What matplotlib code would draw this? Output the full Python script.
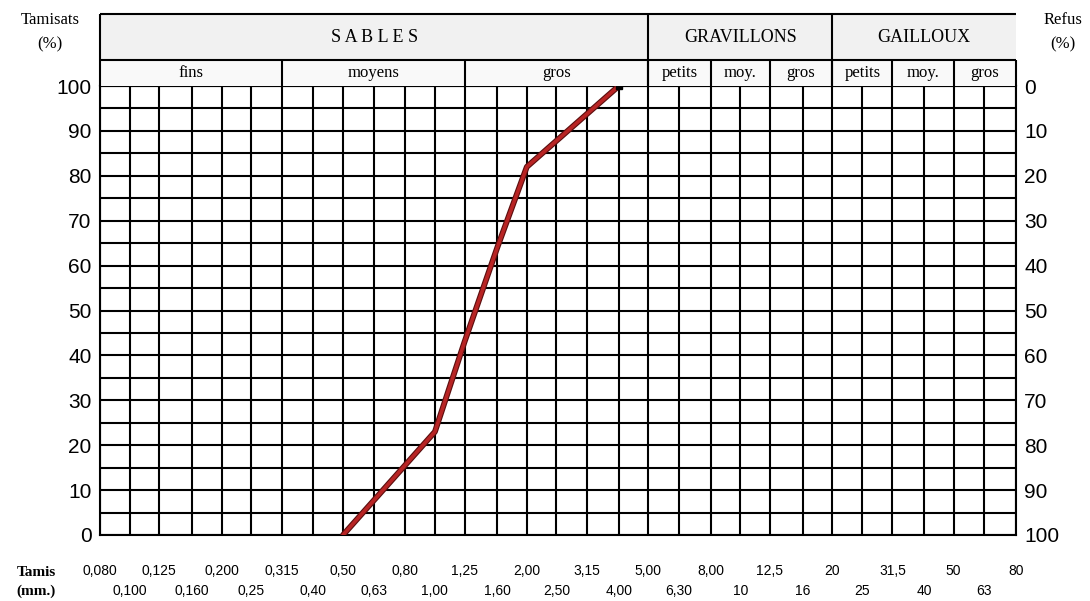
import numpy as np
import matplotlib.pyplot as plt

# sieve openings (mm), one grid column between each pair
sieves = [0.080, 0.100, 0.125, 0.160, 0.200, 0.25, 0.315, 0.40, 0.50, 0.63,
          0.80, 1.00, 1.25, 1.60, 2.00, 2.50, 3.15, 4.00, 5.00, 6.30, 8.00,
          10, 12.5, 16, 20, 25, 31.5, 40, 50, 63, 80]
sieve_labels = ["0,080", "0,100", "0,125", "0,160", "0,200", "0,25", "0,315",
                "0,40", "0,50", "0,63", "0,80", "1,00", "1,25", "1,60", "2,00",
                "2,50", "3,15", "4,00", "5,00", "6,30", "8,00", "10", "12,5",
                "16", "20", "25", "31,5", "40", "50", "63", "80"]

# grading curve
curve_size = [0.50, 1.00, 1.25, 1.60, 2.00, 4.00]
curve_pass = [0, 23, 43, 64, 82, 100]

pct_ticks = list(range(0, 101, 10))
pct_lines = list(range(0, 101, 5))

main_groups = [("S A B L E S", 0.080, 5.00), ("GRAVILLONS", 5.00, 20),
               ("GAILLOUX", 20, 80)]
sub_groups = [("fins", 0.080, 0.315), ("moyens", 0.315, 1.25), ("gros", 1.25, 5.00),
              ("petits", 5.00, 8.00), ("moy.", 8.00, 12.5), ("gros", 12.5, 20),
              ("petits", 20, 31.5), ("moy.", 31.5, 50), ("gros", 50, 80)]

serif = "Liberation Serif"
sans = "Liberation Sans"
lw = 1.5

fig = plt.figure(figsize=(10.9, 6.01), dpi=100)
W, H = 1090, 601
x0, x1 = 100, 1016
y_top, y_bot = 86, 535
ax = fig.add_axes([x0 / W, (H - y_bot) / H, (x1 - x0) / W, (y_bot - y_top) / H])
ax.set_xscale("log")
ax.set_xlim(sieves[0], sieves[-1])
ax.set_ylim(0, 100)
for s in ax.spines.values():
    s.set_linewidth(lw)

ax.vlines(sieves, 0, 100, colors="black", lw=lw)
ax.hlines(pct_lines, sieves[0], sieves[-1], colors="black", lw=lw)

# curve: dark edge then red core
ax.plot(curve_size, curve_pass, color="#5a0e0e", lw=4.2, solid_capstyle="round", zorder=5)
ax.plot(curve_size, curve_pass, color="#b82424", lw=2.6, solid_capstyle="round", zorder=6)
ax.plot(curve_size[-1:], curve_pass[-1:], "s", color="black", ms=4, zorder=7)

# sieve labels in two rows
ax.set_xticks(sieves[0::2], sieve_labels[0::2])
ax.set_xticks(sieves[1::2], sieve_labels[1::2], minor=True)
ax.tick_params(axis="x", which="major", length=0, pad=21, labelsize=10)
ax.tick_params(axis="x", which="minor", length=0, pad=35, labelsize=10)
for t in ax.get_xticklabels(which="both"):
    t.set_fontfamily(sans)

ax.set_yticks(pct_ticks, [str(v) for v in pct_ticks])
ax.tick_params(axis="y", length=0, pad=6, labelsize=15)
for t in ax.get_yticklabels():
    t.set_fontfamily(sans)

ax2 = ax.twinx()
ax2.set_ylim(0, 100)
ax2.set_yticks(pct_ticks, [str(100 - v) for v in pct_ticks])
ax2.tick_params(axis="y", length=0, pad=6, labelsize=15)
for t in ax2.get_yticklabels():
    t.set_fontfamily(sans)
for s in ax2.spines.values():
    s.set_visible(False)

# header boxes
h_top = 14
axh = fig.add_axes([x0 / W, (H - y_top) / H, (x1 - x0) / W, (y_top - h_top) / H])
axh.set_xscale("log")
axh.set_xlim(sieves[0], sieves[-1])
axh.set_ylim(0, y_top - h_top)
axh.axis("off")
row = 26
full = y_top - h_top
axh.fill_between([sieves[0], sieves[-1]], row, full, color="#f1f1f1", lw=0)
axh.fill_between([sieves[0], sieves[-1]], 0, row, color="#f9f9f9", lw=0)
axh.hlines([full, row], sieves[0], sieves[-1], colors="black", lw=lw, clip_on=False)
axh.vlines([sieves[0]], 0, full, colors="black", lw=lw, clip_on=False)
for name, a, b in main_groups:
    if b != sieves[-1]:
        axh.vlines([b], 0, full, colors="black", lw=lw)
    axh.text(np.sqrt(a * b), (row + full) / 2, name, ha="center", va="center",
             family=serif, fontsize=13)
for name, a, b in sub_groups:
    axh.vlines([b], 0, row, colors="black", lw=lw, clip_on=False)
    axh.text(np.sqrt(a * b), row / 2, name, ha="center", va="center",
             family=serif, fontsize=12)

fig.text(50 / W, 1 - 20 / H, "Tamisats", ha="center", va="center", family=serif, fontsize=12)
fig.text(50 / W, 1 - 44 / H, "(%)", ha="center", va="center", family=serif, fontsize=12)
fig.text(1063 / W, 1 - 20 / H, "Refus", ha="center", va="center", family=serif, fontsize=12)
fig.text(1063 / W, 1 - 44 / H, "(%)", ha="center", va="center", family=serif, fontsize=12)
fig.text(36 / W, 1 - 572 / H, "Tamis", ha="center", va="center", family=serif,
         fontsize=11, fontweight="bold")
fig.text(36 / W, 1 - 591 / H, "(mm.)", ha="center", va="center", family=serif,
         fontsize=11, fontweight="bold")

fig.savefig("out.png", dpi=100, facecolor="white")
